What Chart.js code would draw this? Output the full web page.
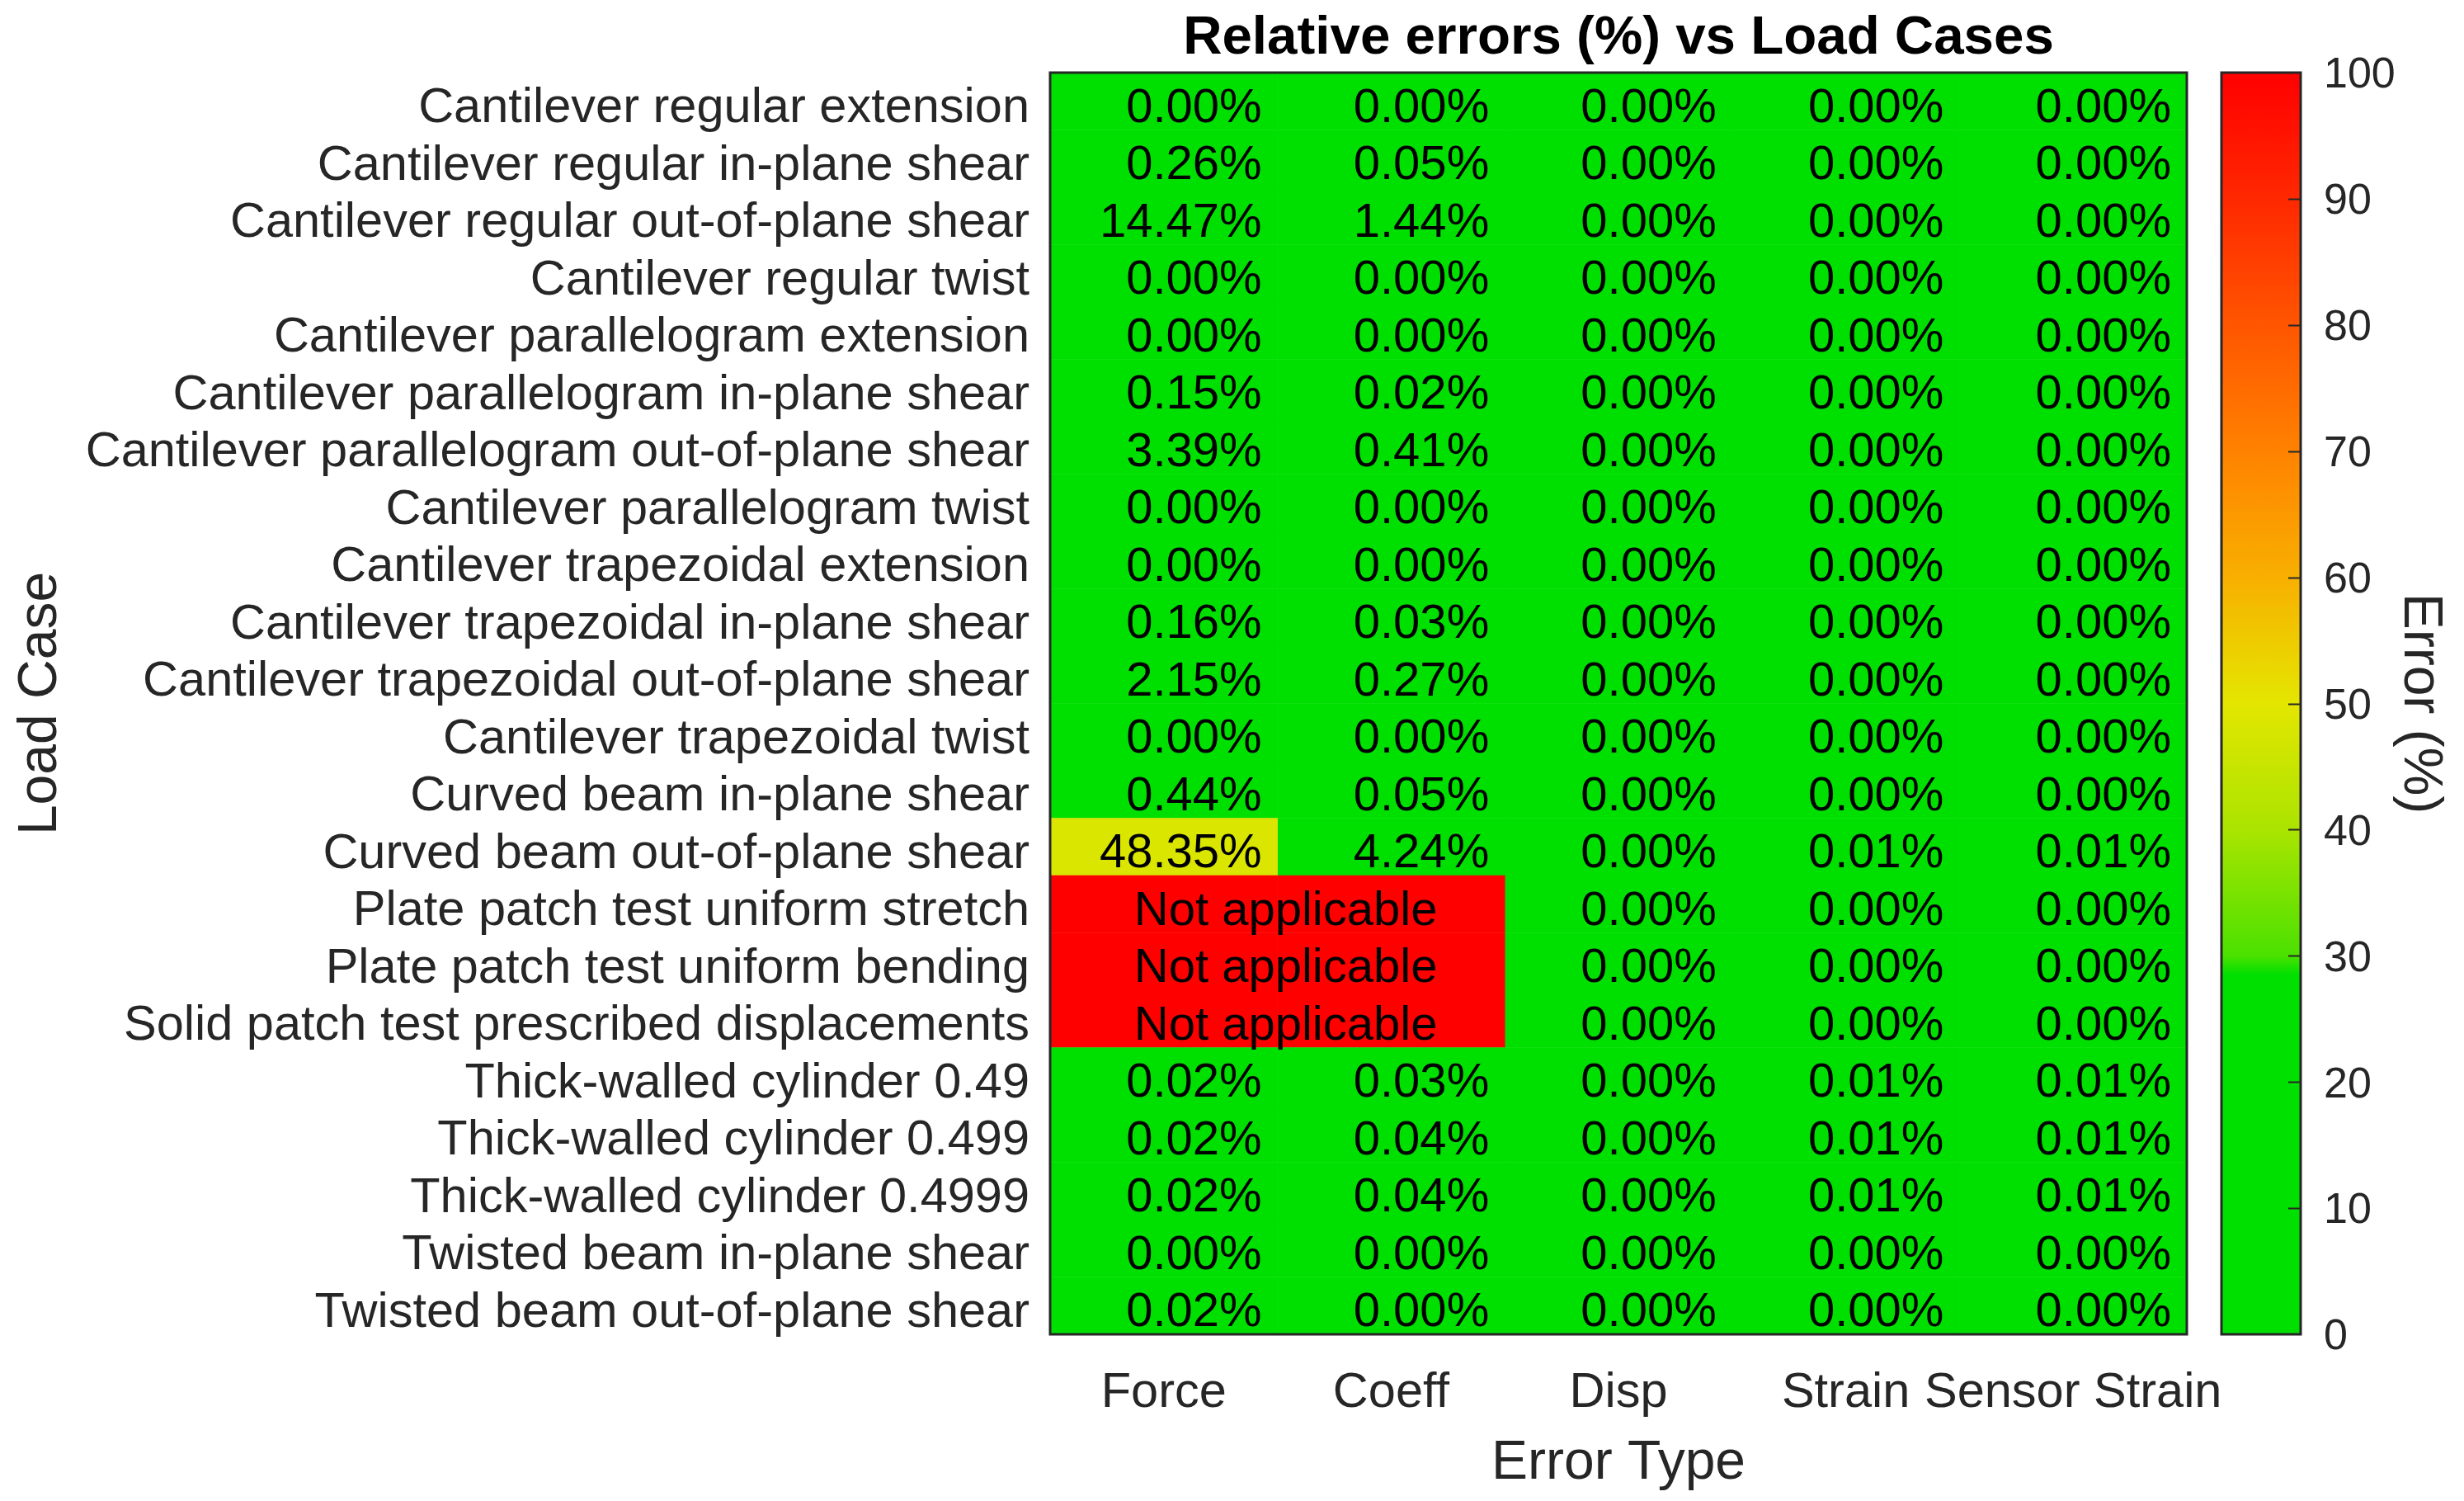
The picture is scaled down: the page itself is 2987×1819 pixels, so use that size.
<!DOCTYPE html>
<html lang="en">
<head>
<meta charset="UTF-8" />
<title>Relative errors (%) vs Load Cases</title>
<script src="https://cdn.jsdelivr.net/npm/chart.js"></script>
<style>
  html, body { margin: 0; padding: 0; background: #fff; }
  #wrap { position: relative; width: 2987px; height: 1819px; }
  #heat { position: absolute; left: 0; top: 0; }
  #cbar { position: absolute; left: 2680px; top: 0; }
</style>
</head>
<body>
<div id="wrap">
  <canvas id="heat" width="2987" height="1819"></canvas>
  <canvas id="cbar" width="307" height="1819"></canvas>
</div>

<script>
// ---- data ----
const loadCases = [
  'Cantilever regular extension',
  'Cantilever regular in-plane shear',
  'Cantilever regular out-of-plane shear',
  'Cantilever regular twist',
  'Cantilever parallelogram extension',
  'Cantilever parallelogram in-plane shear',
  'Cantilever parallelogram out-of-plane shear',
  'Cantilever parallelogram twist',
  'Cantilever trapezoidal extension',
  'Cantilever trapezoidal in-plane shear',
  'Cantilever trapezoidal out-of-plane shear',
  'Cantilever trapezoidal twist',
  'Curved beam in-plane shear',
  'Curved beam out-of-plane shear',
  'Plate patch test uniform stretch',
  'Plate patch test uniform bending',
  'Solid patch test prescribed displacements',
  'Thick-walled cylinder 0.49',
  'Thick-walled cylinder 0.499',
  'Thick-walled cylinder 0.4999',
  'Twisted beam in-plane shear',
  'Twisted beam out-of-plane shear'
];
const errorTypes = ['Force', 'Coeff', 'Disp', 'Strain', 'Sensor Strain'];

// null = not applicable
const forceErr        = [0.00, 0.26, 14.47, 0.00, 0.00, 0.15, 3.39, 0.00, 0.00, 0.16, 2.15, 0.00, 0.44, 48.35, null, null, null, 0.02, 0.02, 0.02, 0.00, 0.02];
const coeffErr        = [0.00, 0.05, 1.44, 0.00, 0.00, 0.02, 0.41, 0.00, 0.00, 0.03, 0.27, 0.00, 0.05, 4.24, null, null, null, 0.03, 0.04, 0.04, 0.00, 0.00];
const dispErr         = [0.00, 0.00, 0.00, 0.00, 0.00, 0.00, 0.00, 0.00, 0.00, 0.00, 0.00, 0.00, 0.00, 0.00, 0.00, 0.00, 0.00, 0.00, 0.00, 0.00, 0.00, 0.00];
const strainErr       = [0.00, 0.00, 0.00, 0.00, 0.00, 0.00, 0.00, 0.00, 0.00, 0.00, 0.00, 0.00, 0.00, 0.01, 0.00, 0.00, 0.00, 0.01, 0.01, 0.01, 0.00, 0.00];
const sensorStrainErr = [0.00, 0.00, 0.00, 0.00, 0.00, 0.00, 0.00, 0.00, 0.00, 0.00, 0.00, 0.00, 0.00, 0.01, 0.00, 0.00, 0.00, 0.01, 0.01, 0.01, 0.00, 0.00];

const colorbarMin = 0;
const colorbarMax = 100;
const colorbarStep = 10;

// green -> yellow -> red map, flat green below ~29 %
const cmapStops = [
  [0,    [0, 224, 0]],
  [28.5, [0, 224, 0]],
  [30,   [75, 225, 0]],
  [40,   [170, 228, 0]],
  [50,   [228, 230, 0]],
  [60,   [248, 175, 0]],
  [70,   [255, 130, 0]],
  [80,   [255, 85, 0]],
  [90,   [255, 40, 0]],
  [100,  [255, 0, 0]]
];
const NA_COLOR = 'rgb(255,0,0)';

const FONT = '"Liberation Sans", Arial, Helvetica, sans-serif';
const TICK_COLOR = '#262626';

function errColor(v) {
  if (v === null) return NA_COLOR;
  let c = cmapStops[cmapStops.length - 1][1];
  if (v <= cmapStops[0][0]) c = cmapStops[0][1];
  for (let i = 1; i < cmapStops.length; i++) {
    const [v0, c0] = cmapStops[i - 1];
    const [v1, c1] = cmapStops[i];
    if (v >= v0 && v <= v1) {
      const t = (v - v0) / (v1 - v0);
      c = c0.map((x, k) => Math.round(x + (c1[k] - x) * t));
      break;
    }
  }
  return `rgb(${c[0]},${c[1]},${c[2]})`;
}

// ---- heatmap ----
const columns = [forceErr, coeffErr, dispErr, strainErr, sensorStrainErr];

const datasets = columns.map((vals, c) => ({
  label: errorTypes[c],
  data: vals.map(() => [c, c + 1]),
  backgroundColor: vals.map(errColor),
  grouped: false,
  barPercentage: 1,
  categoryPercentage: 1,
  borderWidth: 0
}));

const cellText = {
  id: 'cellText',
  afterDatasetsDraw(chart) {
    const { ctx, chartArea, scales: { x, y } } = chart;
    ctx.save();
    ctx.fillStyle = '#000';
    ctx.font = `58px ${FONT}`;
    ctx.textBaseline = 'middle';
    loadCases.forEach((name, r) => {
      const yc = y.getPixelForValue(r) + 9;
      columns.forEach((vals, c) => {
        const v = vals[r];
        if (v === null) return;
        ctx.textAlign = 'right';
        ctx.fillText(v.toFixed(2) + '%', x.getPixelForValue(c + 1) - 19, yc);
      });
      // merged "not applicable" block over the first two columns
      if (columns[0][r] === null && columns[1][r] === null) {
        ctx.textAlign = 'center';
        ctx.fillText('Not applicable', (x.getPixelForValue(0) + x.getPixelForValue(2)) / 2 + 10, yc);
      }
    });
    ctx.strokeStyle = TICK_COLOR;
    ctx.lineWidth = 3;
    ctx.strokeRect(chartArea.left, chartArea.top, chartArea.right - chartArea.left, chartArea.bottom - chartArea.top);
    ctx.restore();
  }
};

new Chart(document.getElementById('heat'), {
  type: 'bar',
  data: { labels: loadCases, datasets },
  options: {
    indexAxis: 'y',
    responsive: false,
    animation: false,
    devicePixelRatio: 1,
    layout: { padding: { top: 0, left: 0, right: 336, bottom: 0 } },
    plugins: {
      legend: { display: false },
      tooltip: { enabled: false },
      title: {
        display: true,
        text: 'Relative errors (%) vs Load Cases',
        fullSize: false,
        color: '#000',
        font: { family: FONT, size: 65.5, weight: 'bold', lineHeight: 1.2 },
        padding: { top: 8, bottom: 1.4 }
      }
    },
    scales: {
      x: {
        type: 'linear',
        position: 'bottom',
        min: 0,
        max: errorTypes.length,
        grid: { display: false, drawTicks: false },
        border: { display: false },
        afterBuildTicks: s => { s.ticks = errorTypes.map((_, i) => ({ value: i + 0.5 })); },
        ticks: {
          autoSkip: false,
          maxRotation: 0,
          minRotation: 0,
          padding: 36,
          color: TICK_COLOR,
          font: { family: FONT, size: 59.5, lineHeight: 1.2 },
          callback: v => errorTypes[Math.floor(v)]
        },
        title: {
          display: true,
          text: 'Error Type',
          color: TICK_COLOR,
          font: { family: FONT, size: 66, lineHeight: 1.2 },
          padding: { top: 0, bottom: 5.4 }
        },
        afterFit: s => { s.height = 202; s.paddingLeft = 0; s.paddingRight = 0; }
      },
      y: {
        type: 'category',
        position: 'left',
        offset: true,
        grid: { display: false, drawTicks: false },
        border: { display: false },
        ticks: {
          autoSkip: false,
          padding: 25,
          labelOffset: 9,
          color: TICK_COLOR,
          font: { family: FONT, size: 59.5, lineHeight: 1.2 }
        },
        title: {
          display: true,
          text: 'Load Case',
          color: TICK_COLOR,
          font: { family: FONT, size: 66, lineHeight: 1.2 },
          padding: { top: 9.8, bottom: 0 }
        },
        afterFit: s => { s.width = 1273; s.paddingTop = 0; s.paddingBottom = 0; }
      }
    }
  },
  plugins: [cellText]
});

// ---- colorbar ----
const cbarFrame = {
  id: 'cbarFrame',
  afterDatasetsDraw(chart) {
    const { ctx, chartArea, scales: { y } } = chart;
    ctx.save();
    ctx.strokeStyle = TICK_COLOR;
    ctx.lineWidth = 2;
    ctx.beginPath();
    y.ticks.forEach(t => {
      if (t.value <= colorbarMin || t.value >= colorbarMax) return;
      const py = Math.round(y.getPixelForValue(t.value)) + 0.5;
      ctx.moveTo(chartArea.right - 15, py);
      ctx.lineTo(chartArea.right, py);
    });
    ctx.stroke();
    ctx.lineWidth = 3;
    ctx.strokeRect(chartArea.left, chartArea.top, chartArea.right - chartArea.left, chartArea.bottom - chartArea.top);
    ctx.restore();
  }
};

new Chart(document.getElementById('cbar'), {
  type: 'bar',
  data: {
    labels: [''],
    datasets: [{
      data: [[colorbarMin, colorbarMax]],
      backgroundColor: context => {
        const { chart } = context;
        const { ctx, chartArea, scales } = chart;
        if (!chartArea || !scales.y) return NA_COLOR;
        const y0 = scales.y.getPixelForValue(colorbarMin);
        const y1 = scales.y.getPixelForValue(colorbarMax);
        const g = ctx.createLinearGradient(0, y0, 0, y1);
        for (let v = colorbarMin; v <= colorbarMax; v += 0.5) {
          g.addColorStop((v - colorbarMin) / (colorbarMax - colorbarMin), errColor(v));
        }
        return g;
      },
      barPercentage: 1,
      categoryPercentage: 1,
      borderWidth: 0
    }]
  },
  options: {
    responsive: false,
    animation: false,
    devicePixelRatio: 1,
    layout: { padding: { left: 13, top: 88, bottom: 202, right: 0 } },
    plugins: { legend: { display: false }, tooltip: { enabled: false } },
    scales: {
      x: { display: false },
      y: {
        position: 'right',
        min: colorbarMin,
        max: colorbarMax,
        grid: { display: false, drawTicks: false },
        border: { display: false },
        ticks: {
          stepSize: colorbarStep,
          padding: 28,
          labelOffset: 4,
          color: TICK_COLOR,
          font: { family: FONT, size: 52, lineHeight: 1.2 }
        },
        title: {
          display: true,
          text: 'Error (%)',
          color: TICK_COLOR,
          font: { family: FONT, size: 66, lineHeight: 1.2 },
          padding: { top: 14.4, bottom: 0 }
        },
        afterFit: s => { s.width = 198; s.paddingTop = 0; s.paddingBottom = 0; }
      }
    }
  },
  plugins: [cbarFrame]
});
</script>
</body>
</html>
